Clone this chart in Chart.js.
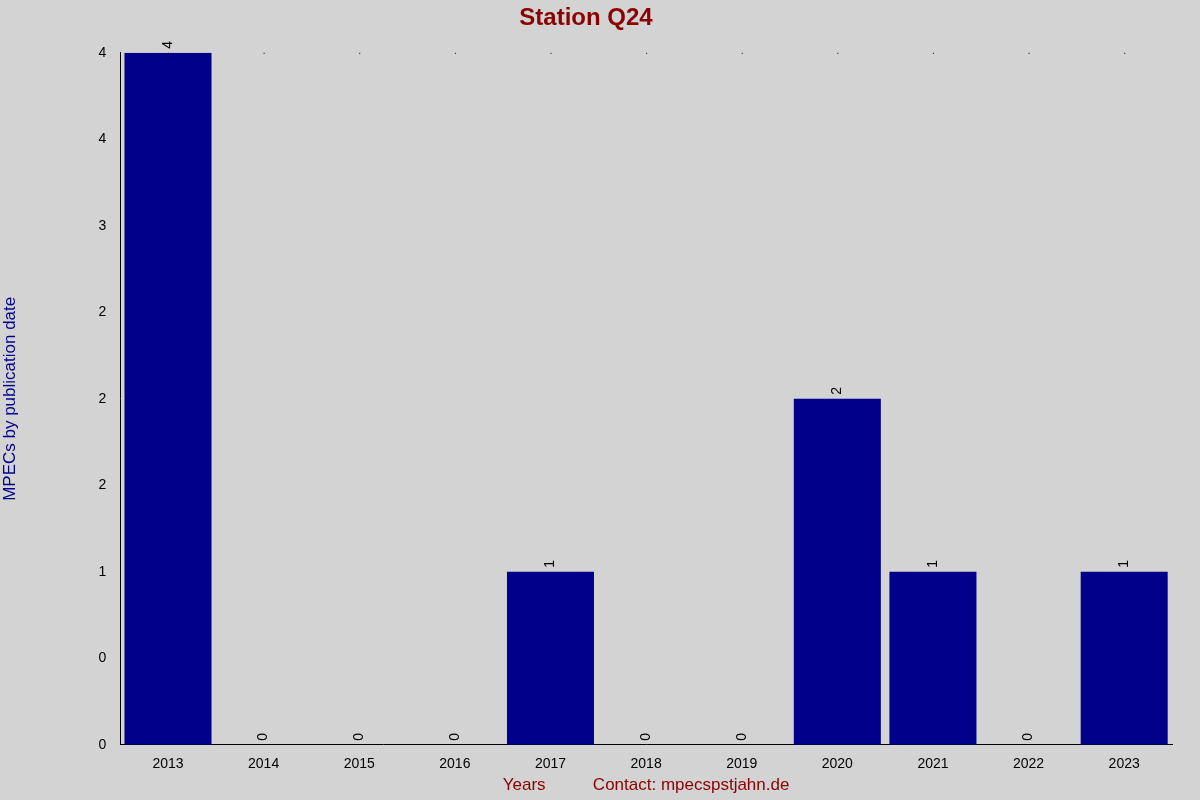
<!DOCTYPE html>
<html>
<head>
<meta charset="utf-8">
<script src="https://cdn.jsdelivr.net/npm/chart.js@4"></script>
<style>
  html, body { margin: 0; padding: 0; background: #d3d3d3; }
  #wrap { width: 1200px; height: 800px; }
</style>
</head>
<body>
<div id="wrap"><canvas id="chart" width="1200" height="800"></canvas></div>
<script>
const years = ["2013", "2014", "2015", "2016", "2017", "2018", "2019", "2020", "2021", "2022", "2023"];
const mpecs = [4, 0, 0, 0, 1, 0, 0, 2, 1, 0, 1];
// tick labels as printed on the original (rounded half steps)
const yTickLabels = ["0", "0", "1", "2", "2", "2", "3", "4", "4"];

const FONT = "Arial, 'Liberation Sans', sans-serif";

// value labels, rotated, above each bar + small dots along the top edge
const barLabels = {
  id: "barLabels",
  afterDatasetsDraw(chart) {
    const { ctx, scales: { x, y } } = chart;
    ctx.save();
    ctx.fillStyle = "#000";
    ctx.font = "14px " + FONT;
    ctx.textAlign = "left";
    ctx.textBaseline = "middle";
    mpecs.forEach((v, i) => {
      const cx = x.getPixelForValue(i);
      const top = y.getPixelForValue(v);
      ctx.save();
      ctx.translate(cx, top - 4);
      ctx.rotate(-Math.PI / 2);
      ctx.fillText(String(v), 0, 0);
      ctx.restore();
      ctx.fillRect(cx, y.getPixelForValue(4), 1, 1);
    });
    ctx.restore();
  }
};

new Chart(document.getElementById("chart").getContext("2d"), {
  type: "bar",
  data: {
    labels: years,
    datasets: [{ data: mpecs, backgroundColor: "#00008b", barPercentage: 0.91, categoryPercentage: 1 }]
  },
  options: {
    responsive: false,
    animation: false,
    layout: { padding: { top: 0, right: 28, left: 0, bottom: 0 } },
    plugins: {
      legend: { display: false },
      tooltip: { enabled: false },
      title: {
        display: true, text: "Station Q24", color: "#8b0000",
        font: { family: FONT, size: 24 }, padding: { top: 4, bottom: 20 }
      }
    },
    scales: {
      x: {
        grid: { display: false, drawTicks: true },
        border: { color: "#000" },
        ticks: { color: "#000", font: { family: FONT, size: 14 }, maxRotation: 0 },
        title: {
          display: true, text: "Years          Contact: mpecspstjahn.de", color: "#8b0000",
          font: { family: FONT, size: 17 }, padding: { top: 0, bottom: 4 }
        }
      },
      y: {
        min: 0, max: 4,
        afterBuildTicks: (s) => { s.ticks = yTickLabels.map((_, i) => ({ value: i * 0.5 })); },
        grid: { display: false, drawTicks: true, tickLength: 6, tickColor: "#000" },
        border: { color: "#000" },
        ticks: {
          color: "#000", font: { family: FONT, size: 14 }, padding: 8,
          callback: (v, i) => yTickLabels[i]
        },
        title: {
          display: true, text: "MPECs by publication date", color: "#00008b",
          font: { family: FONT, size: 17 }, padding: { top: 0, bottom: 70 }
        }
      }
    }
  },
  plugins: [barLabels]
});
</script>
</body>
</html>
